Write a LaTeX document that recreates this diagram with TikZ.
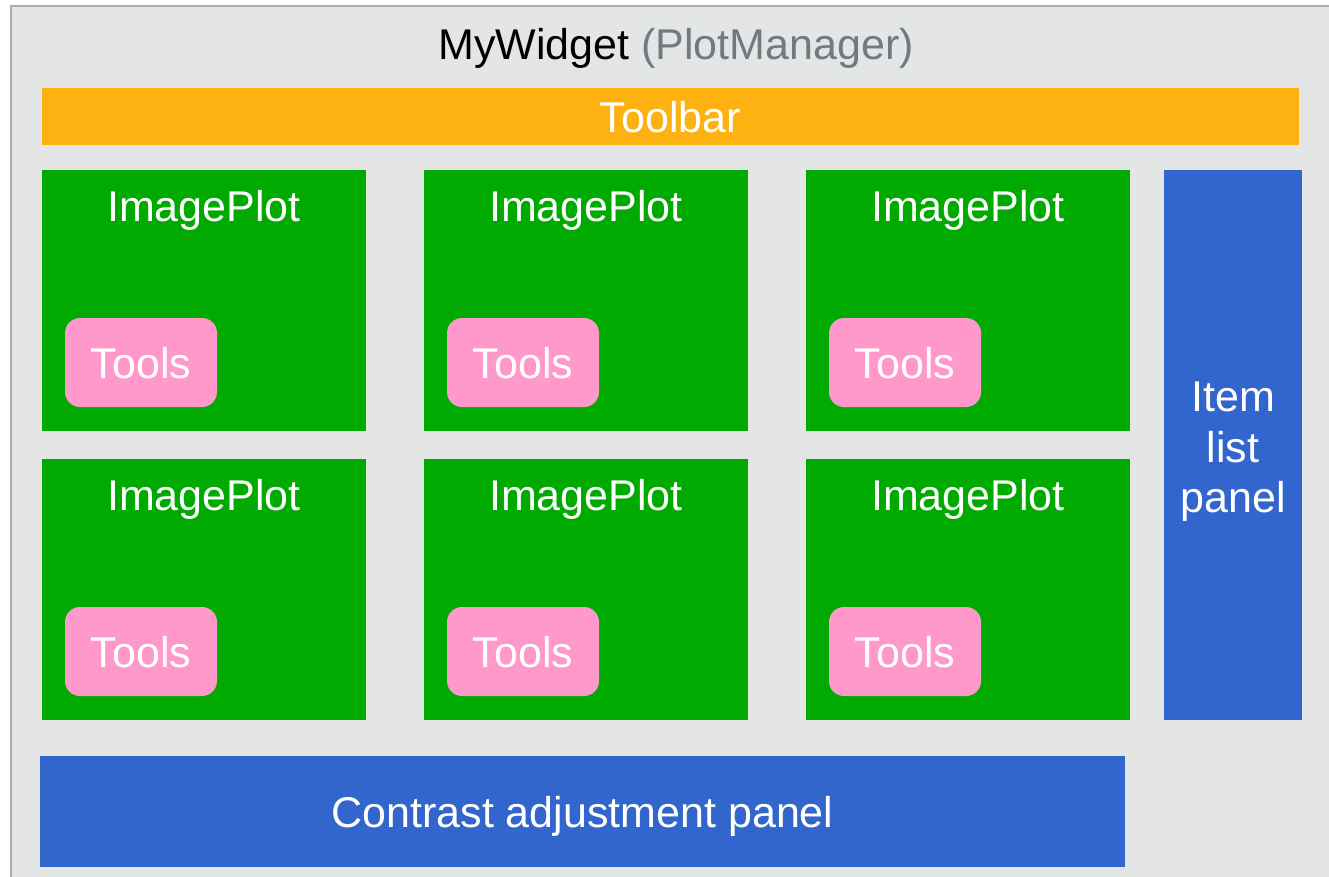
\documentclass[tikz,border=0pt]{standalone}
\usepackage{fontspec}
\setmainfont{Liberation Sans}
\usepackage{tikz}
\usetikzlibrary{positioning}

\definecolor{framegray}{HTML}{E4E6E6}
\definecolor{frameline}{HTML}{A9ADAD}
\definecolor{mgrgray}{HTML}{6E7B83}
\definecolor{barorange}{HTML}{FDB212}
\definecolor{plotgreen}{HTML}{00AA00}
\definecolor{toolpink}{HTML}{FF99CC}
\definecolor{panelblue}{HTML}{3366CC}

\begin{document}
\begin{tikzpicture}[x=1pt,y=-1pt,
    every node/.style={inner sep=0pt,outer sep=0pt},
    txt/.style={text=white,font=\fontsize{43}{50.5}\selectfont},
    plotbox/.style={fill=plotgreen,minimum width=324pt,minimum height=261pt},
    toolbox/.style={fill=toolpink,rounded corners=15pt,minimum width=152pt,minimum height=89pt}]
  \useasboundingbox (0,0) rectangle (1329,877);
  % widget frame
  \draw[frameline,line width=1.5pt,fill=framegray] (11,6) rectangle (1345,895);
  \node[anchor=base,font=\fontsize{43}{50.5}\selectfont] (widget) at (676,60)
    {MyWidget \textcolor{mgrgray}{(PlotManager)}};
  % toolbar
  \node[fill=barorange,minimum width=1257pt,minimum height=57pt] (toolbar) at (670.5,116.5) {};
  \node[txt,anchor=base] (toolbarlbl) at (670.5,132.5) {Toolbar};
  % plots with their tools
  \foreach \c/\x in {0/42,1/424,2/806}
    \foreach \r/\y in {0/170,1/459} {
      \node[plotbox] (plot\c\r) at (\x+162,\y+130.5) {};
      \node[txt,anchor=base] (plotlbl\c\r) at (\x+162,\y+51.5) {ImagePlot};
      \node[toolbox] (tools\c\r) at (\x+99,\y+192.5) {};
      \node[txt,anchor=base] (toolslbl\c\r) at (\x+99,\y+208) {Tools};
    }
  % side and bottom panels
  \node[fill=panelblue,minimum width=138pt,minimum height=550pt] (itemlist) at (1233,445) {};
  \node[txt,align=center] (itemlistlbl) at (1233,452) {Item\\list\\panel};
  \node[fill=panelblue,minimum width=1085pt,minimum height=111pt] (contrast) at (582.5,811.5) {};
  \node[txt,anchor=base] (contrastlbl) at (582.5,827) {Contrast adjustment panel};
\end{tikzpicture}
\end{document}
